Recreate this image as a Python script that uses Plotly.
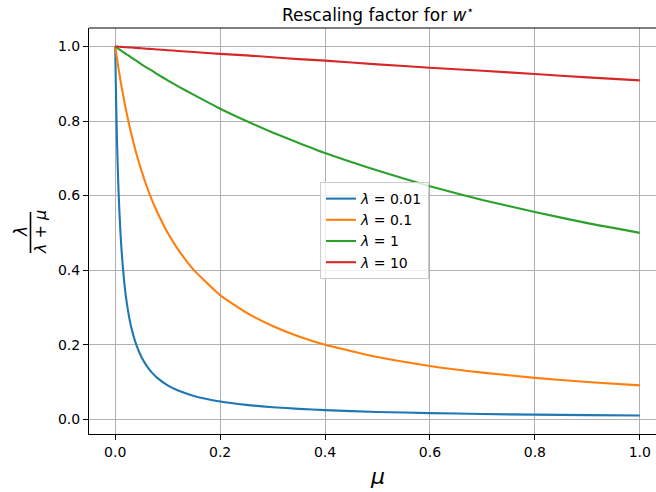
import plotly.graph_objects as go

mu = [0, 0.001, 0.002, 0.003, 0.004, 0.005, 0.006, 0.008, 0.01, 0.012, 0.015, 0.02, 0.025,
      0.03, 0.04, 0.05, 0.06, 0.07, 0.08, 0.1, 0.12, 0.15, 0.2, 0.25, 0.3, 0.35, 0.4,
      0.5, 0.6, 0.7, 0.8, 0.9, 1.0]
lam_001 = [1.0, 0.909, 0.833, 0.769, 0.714, 0.667, 0.625, 0.556, 0.5, 0.455, 0.4, 0.333, 0.286,
           0.25, 0.2, 0.167, 0.143, 0.125, 0.111, 0.0909, 0.0769, 0.0625, 0.0476, 0.0385, 0.0323,
           0.0278, 0.0244, 0.0196, 0.0164, 0.0141, 0.0123, 0.011, 0.0099]
lam_01 = [1.0, 0.990, 0.980, 0.971, 0.962, 0.952, 0.943, 0.926, 0.909, 0.893, 0.870, 0.833, 0.8,
          0.769, 0.714, 0.667, 0.625, 0.588, 0.556, 0.5, 0.455, 0.4, 0.333, 0.286, 0.25,
          0.222, 0.2, 0.167, 0.143, 0.125, 0.111, 0.1, 0.0909]
lam_1 = [1.0, 0.999, 0.998, 0.997, 0.996, 0.995, 0.994, 0.992, 0.990, 0.988, 0.985, 0.980, 0.976,
         0.971, 0.962, 0.952, 0.943, 0.935, 0.926, 0.909, 0.893, 0.870, 0.833, 0.8, 0.769,
         0.741, 0.714, 0.667, 0.625, 0.588, 0.556, 0.526, 0.5]
lam_10 = [1.0, 1.0, 1.0, 1.0, 1.0, 0.9995, 0.9994, 0.9992, 0.999, 0.9988, 0.9985, 0.998, 0.9975,
          0.997, 0.996, 0.995, 0.994, 0.993, 0.992, 0.990, 0.988, 0.985, 0.980, 0.976, 0.971,
          0.966, 0.962, 0.952, 0.943, 0.935, 0.926, 0.917, 0.909]

series = [("0.01", lam_001, "#1f77b4"), ("0.1", lam_01, "#ff7f0e"),
          ("1", lam_1, "#2ca02c"), ("10", lam_10, "#d62728")]
tick_vals = [0.0, 0.2, 0.4, 0.6, 0.8, 1.0]

FONT = "DejaVu Sans"
W, H = 680, 492
L, R, T, B = 89, 14, 28, 58
PW, PH = W - L - R, H - T - B


def px(x):
    return (x - L) / PW


def py(y):
    return (H - B - y) / PH


fig = go.Figure()
for name, vals, col in series:
    fig.add_trace(go.Scatter(x=mu, y=vals, mode="lines", name=f"<i>λ</i> = {name}",
                             line=dict(color=col, width=2.1, shape="spline", smoothing=0.5)))

axis_common = dict(showgrid=True, gridcolor="#b0b0b0", gridwidth=1.1,
                   showline=True, linecolor="black", linewidth=1.1,
                   ticks="outside", ticklen=5, tickwidth=1.1, tickcolor="black",
                   tickvals=tick_vals, tickformat=".1f", zeroline=False, mirror=False,
                   tickfont=dict(family=FONT, size=14, color="black"))

fig.update_xaxes(range=[-0.05, 1.05], **axis_common)
fig.update_yaxes(range=[-0.0396, 1.0495], **axis_common)

annotations = [
    dict(text="Rescaling factor for <i>w</i><sup>⋆</sup>", x=px(377.5), y=py(14),
         xref="paper", yref="paper", showarrow=False, xanchor="center", yanchor="middle",
         font=dict(family=FONT, size=17, color="black")),
    dict(text="<i>μ</i>", x=px(377.5), y=py(476), xref="paper", yref="paper",
         showarrow=False, xanchor="center", yanchor="middle",
         font=dict(family=FONT, size=22, color="black")),
    dict(text="<i>λ</i>", x=px(21), y=py(232), xref="paper", yref="paper",
         showarrow=False, xanchor="center", yanchor="middle", textangle=-90,
         font=dict(family=FONT, size=17, color="black")),
    dict(text="<i>λ</i> + <i>μ</i>", x=px(40), y=py(232), xref="paper", yref="paper",
         showarrow=False, xanchor="center", yanchor="middle", textangle=-90,
         font=dict(family=FONT, size=16, color="black")),
]

shapes = [
    dict(type="line", xref="paper", yref="paper",
         x0=px(30.5), x1=px(30.5), y0=py(212), y1=py(253),
         line=dict(color="black", width=1.6)),
    dict(type="line", xref="paper", yref="paper", x0=0, x1=1, y0=1, y1=1,
         line=dict(color="black", width=1.1)),
]

fig.update_layout(
    width=W, height=H,
    margin=dict(l=L, r=R, t=T, b=B),
    paper_bgcolor="white", plot_bgcolor="white",
    font=dict(family=FONT, size=14, color="black"),
    annotations=annotations,
    shapes=shapes,
    legend=dict(x=px(320), y=py(182), xanchor="left", yanchor="top",
                bgcolor="rgba(255,255,255,0.8)", bordercolor="#cccccc", borderwidth=1,
                font=dict(family=FONT, size=14, color="black")),
    showlegend=True,
)

fig.write_html("out.html", config={"displayModeBar": False},
               post_script="document.body.style.margin='0';document.body.style.overflow='hidden';")
